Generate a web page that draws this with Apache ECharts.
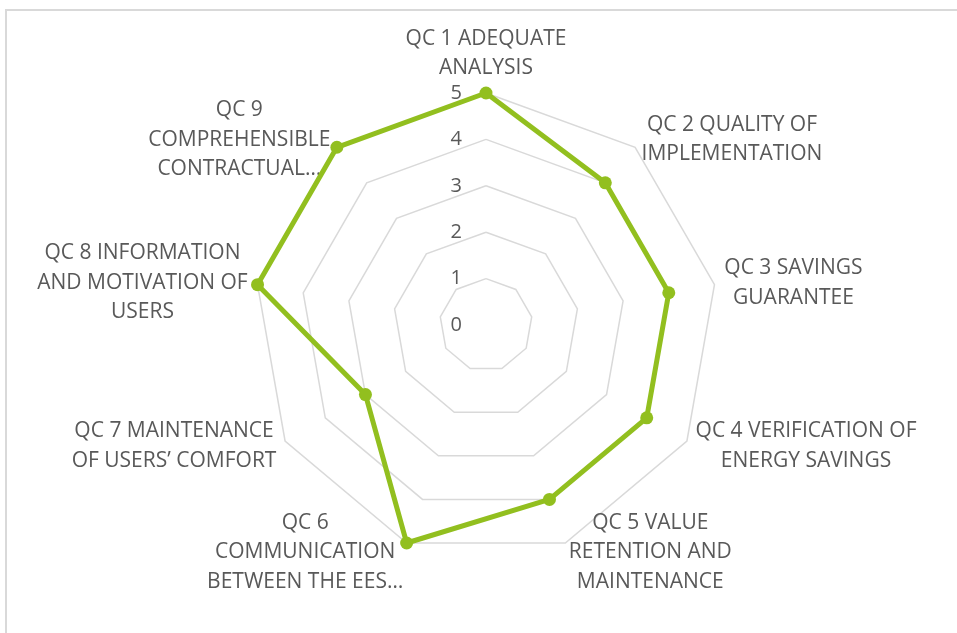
<!DOCTYPE html>
<html>
<head>
<meta charset="utf-8">
<script src="https://cdn.jsdelivr.net/npm/echarts@6/dist/echarts.min.js"></script>
<style>
  html, body { margin: 0; padding: 0; background: #fff; }
  #chart { width: 957px; height: 633px; }
</style>
</head>
<body>
<div id="chart"></div>
<script>
// categories, clockwise from the top
var categories = [
    'QC 1 ADEQUATE\nANALYSIS',
    'QC 2 QUALITY OF\nIMPLEMENTATION',
    'QC 3 SAVINGS\nGUARANTEE',
    'QC 4 VERIFICATION OF\nENERGY SAVINGS',
    'QC 5 VALUE\nRETENTION AND\nMAINTENANCE',
    'QC 6\nCOMMUNICATION\nBETWEEN THE EES…',
    'QC 7 MAINTENANCE\nOF USERS’ COMFORT',
    'QC 8 INFORMATION\nAND MOTIVATION OF\nUSERS',
    'QC 9\nCOMPREHENSIBLE\nCONTRACTUAL…'
];
var values = [5, 4, 4, 4, 4, 5, 3, 5, 5];
var axisMin = 0;
var axisMax = 5;

var textColor = '#595959';
var fontFamily = '"Open Sans", "Noto Sans", sans-serif';

// echarts lays radar indicators counter-clockwise, so walk the lists backwards after the first
var order = [0];
for (var i = categories.length - 1; i > 0; i--) order.push(i);

var indicators = order.map(function (idx, k) {
    var ind = { name: categories[idx], min: axisMin, max: axisMax };
    if (k === 0) {
        ind.axisLabel = {
            show: true,
            color: textColor,
            fontSize: 20,
            fontFamily: fontFamily,
            margin: 24
        };
    }
    return ind;
});
var seriesData = order.map(function (idx) { return values[idx]; });

var chart = echarts.init(document.getElementById('chart'));
chart.setOption({
    backgroundColor: '#fff',
    animation: false,
    graphic: [{
        type: 'rect',
        shape: { x: 6, y: 10, width: 1000, height: 700 },
        style: { fill: 'none', stroke: '#d9d9d9', lineWidth: 2 },
        silent: true
    }],
    radar: {
        center: [486, 325],
        radius: 232,
        startAngle: 90,
        shape: 'polygon',
        splitNumber: 5,
        nameGap: 10,
        axisName: {
            color: textColor,
            fontSize: 21,
            fontFamily: fontFamily,
            formatter: function (name) {
                return name.split('\n').map(function (s) { return '{c|' + s + '}'; }).join('\n');
            },
            rich: {
                c: { align: 'center', color: textColor, fontSize: 21, fontFamily: fontFamily, lineHeight: 29.5 }
            }
        },
        axisLine: { show: false },
        axisTick: { show: false },
        axisLabel: { show: false },
        splitLine: { lineStyle: { color: '#d9d9d9', width: 1.5 } },
        splitArea: { show: false },
        indicator: indicators
    },
    series: [{
        type: 'radar',
        symbol: 'circle',
        symbolSize: 13,
        lineStyle: { color: '#92bf1f', width: 5 },
        itemStyle: { color: '#92bf1f' },
        data: [{ value: seriesData }]
    }]
});
</script>
</body>
</html>
